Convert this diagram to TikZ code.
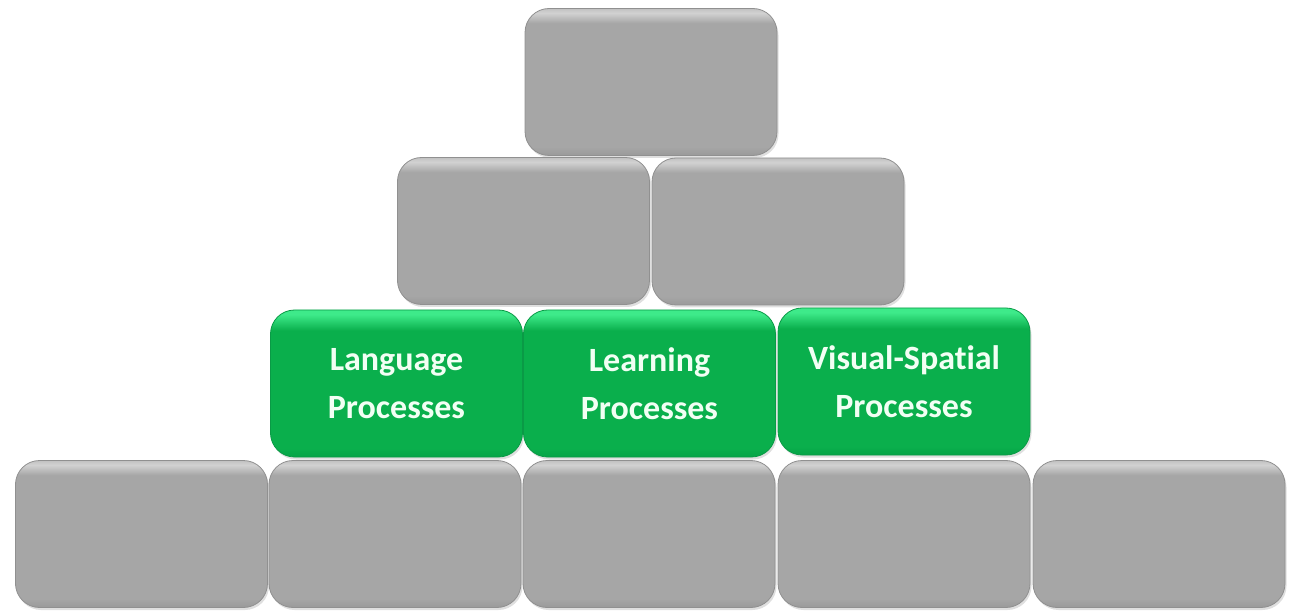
\documentclass[tikz,border=0pt]{standalone}
\usepackage{fontspec}
\setmainfont[Ligatures=NoCommon]{Carlito}
\usetikzlibrary{shadows}
\definecolor{grayfill}{HTML}{A6A6A6}
\definecolor{graytop}{HTML}{D2D2D2}
\definecolor{graybot}{HTML}{9A9A9A}
\definecolor{grayedge}{HTML}{909090}
\definecolor{greenfill}{HTML}{0AAF4C}
\definecolor{greentop}{HTML}{3EEA8A}
\definecolor{greenbot}{HTML}{05A447}
\definecolor{greenedge}{HTML}{0A9A46}
\definecolor{txt}{HTML}{F2FFF4}
\pgfdeclareverticalshading{grayglass}{100bp}{color(0bp)=(graybot); color(25bp)=(graybot); color(28bp)=(grayfill); color(70bp)=(grayfill); color(73.5bp)=(graytop); color(75bp)=(grayfill!70!white); color(100bp)=(grayfill!70!white)}
\pgfdeclareverticalshading{greenglass}{100bp}{color(0bp)=(greenbot); color(25bp)=(greenbot); color(28bp)=(greenfill); color(68bp)=(greenfill); color(73.5bp)=(greentop); color(75bp)=(greentop); color(100bp)=(greentop)}
\tikzset{
  brick/.style={rounded corners=24pt, minimum width=252pt, minimum height=147pt,
    inner sep=0pt, line width=0.8pt,
    drop shadow={opacity=0.25, shadow xshift=1.5pt, shadow yshift=-2.5pt}},
  graybrick/.style={brick, draw=grayedge, shading=grayglass},
  greenbrick/.style={brick, draw=greenedge, shading=greenglass,
    text=txt, font=\fontsize{34}{48}\selectfont\bfseries, align=center}
}
\begin{document}
\begin{tikzpicture}[x=1pt,y=-1pt]
\useasboundingbox (0,0) rectangle (1304,612);
% top
\node[graybrick] (t) at (651,82) {};
% row 2
\node[graybrick] (r2a) at (523.5,231) {};
\node[graybrick] (r2b) at (778,231.5) {};
% bottom row
\node[graybrick] (b1) at (141.5,534) {};
\node[graybrick] (b2) at (395,534) {};
\node[graybrick] (b3) at (649,534) {};
\node[graybrick] (b4) at (904,534) {};
\node[graybrick] (b5) at (1159,534) {};
% green row
\node[greenbrick] (g1) at (396.5,383.5) {Language\\Processes};
\node[greenbrick] (g2) at (649.5,383.5) {Learning\\Processes};
\node[greenbrick] (g3) at (904,381.5) {Visual-Spatial\\Processes};
\end{tikzpicture}
\end{document}
